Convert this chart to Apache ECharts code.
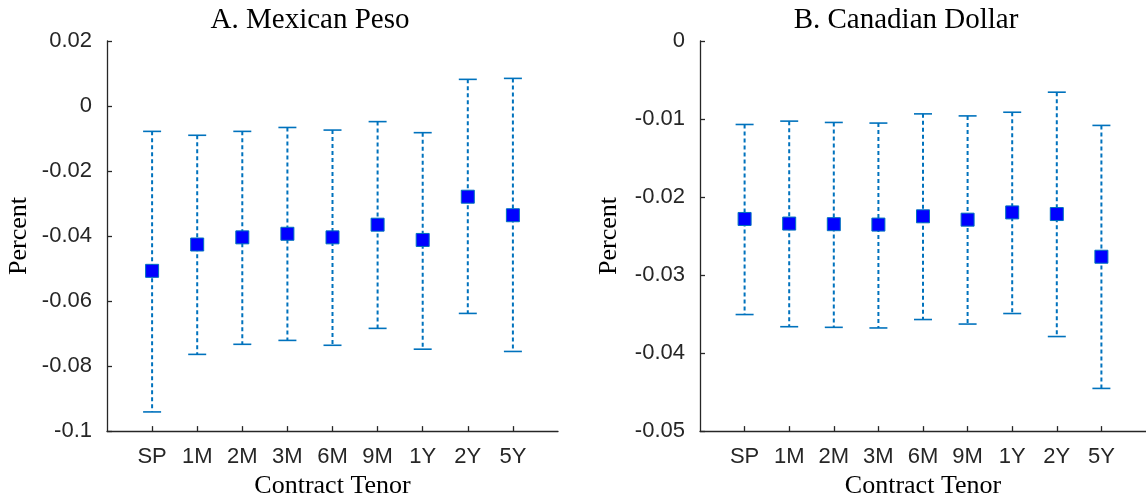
<!DOCTYPE html>
<html>
<head>
<meta charset="utf-8">
<script src="https://cdn.jsdelivr.net/npm/echarts@6/dist/echarts.min.js"></script>
<style>
html,body{margin:0;padding:0;background:#fff;}
#chart{width:1146px;height:504px;}
</style>
</head>
<body>
<div id="chart"></div>
<script>
const tenors = ['SP','1M','2M','3M','6M','9M','1Y','2Y','5Y'];
const mxnMean  = [-0.0507,-0.0426,-0.0404,-0.0393,-0.0404,-0.0365,-0.0412,-0.0279,-0.0336];
const mxnUpper = [-0.0078,-0.0090,-0.0078,-0.0066,-0.0074,-0.0048,-0.0082,0.0082,0.0085];
const mxnLower = [-0.0941,-0.0764,-0.0733,-0.0721,-0.0736,-0.0684,-0.0748,-0.0638,-0.0755];
const cadMean  = [-0.02281,-0.0234,-0.02348,-0.02353,-0.02247,-0.0229,-0.02197,-0.02218,-0.02765];
const cadUpper = [-0.0107,-0.01027,-0.01044,-0.01052,-0.00934,-0.0096,-0.00913,-0.00656,-0.01082];
const cadLower = [-0.03506,-0.03662,-0.0367,-0.03678,-0.0357,-0.03628,-0.03493,-0.03788,-0.04453];
const panelTitles = ['A. Mexican Peso','B. Canadian Dollar'];
const xTitle = 'Contract Tenor';
const yTitle = 'Percent';

const tickPos = tenors.map((t,i)=>i+1);
const axisColor = '#262626';
const barColor = '#0072BD';
const serif = '"Liberation Serif", "Times New Roman", serif';
const sans = '"Liberation Sans", Arial, sans-serif';

function fmtY(v){ return String(Math.round(v*1e6)/1e6); }

function xAxisFor(idx){
  return {
    gridIndex: idx, type:'value', min:0, max:10, interval:1,
    name: xTitle, nameLocation:'middle', nameGap:39,
    nameTextStyle:{fontFamily:serif, fontSize:26, color:'#000'},
    axisLine:{show:true, onZero:false, lineStyle:{color:axisColor, width:1.3}},
    axisTick:{show:true, inside:true, length:5, customValues:tickPos, lineStyle:{color:axisColor, width:1.3}},
    axisLabel:{customValues:tickPos, formatter:v=>tenors[Math.round(v)-1]||'', margin:15,
      fontFamily:sans, fontSize:22, color:axisColor},
    splitLine:{show:false}
  };
}
function yAxisFor(idx, min, max, interval, gap){
  return {
    gridIndex: idx, type:'value', min:min, max:max, interval:interval,
    name: yTitle, nameLocation:'middle', nameGap:gap,
    nameTextStyle:{fontFamily:serif, fontSize:26, color:'#000'},
    axisLine:{show:true, onZero:false, lineStyle:{color:axisColor, width:1.3}},
    axisTick:{show:true, inside:true, length:5, lineStyle:{color:axisColor, width:1.3}},
    axisLabel:{formatter:fmtY, margin:15, fontFamily:sans, fontSize:22, color:axisColor},
    splitLine:{show:false}
  };
}

function renderBar(params, api){
  const x = api.value(0), lo = api.value(1), hi = api.value(2);
  const pHi = api.coord([x, hi]);
  const pLo = api.coord([x, lo]);
  const w = 9;
  return {type:'group', children:[
    {type:'line', shape:{x1:pHi[0], y1:pHi[1], x2:pLo[0], y2:pLo[1]},
      style:{stroke:barColor, lineWidth:2, lineDash:[4,3], fill:null}},
    {type:'line', shape:{x1:pHi[0]-w, y1:pHi[1], x2:pHi[0]+w, y2:pHi[1]},
      style:{stroke:barColor, lineWidth:1.6, fill:null}},
    {type:'line', shape:{x1:pLo[0]-w, y1:pLo[1], x2:pLo[0]+w, y2:pLo[1]},
      style:{stroke:barColor, lineWidth:1.6, fill:null}}
  ]};
}

function seriesFor(idx, mean, lower, upper){
  return [
    {type:'custom', xAxisIndex:idx, yAxisIndex:idx, renderItem:renderBar,
      encode:{x:0, y:[1,2]}, silent:true, z:2,
      data: tenors.map((t,i)=>[i+1, lower[i], upper[i]])},
    {type:'scatter', xAxisIndex:idx, yAxisIndex:idx, symbol:'rect', symbolSize:13, z:3,
      itemStyle:{color:'#0000FF', borderColor:barColor, borderWidth:1, opacity:1},
      data: tenors.map((t,i)=>[i+1, mean[i]])}
  ];
}

const chart = echarts.init(document.getElementById('chart'), null, {renderer:'canvas'});
chart.setOption({
  animation:false,
  backgroundColor:'#fff',
  grid:[
    {left:107, top:41, width:451, height:396, containLabel:false},
    {left:700, top:41, width:451, height:396, containLabel:false}
  ],
  xAxis:[xAxisFor(0), xAxisFor(1)],
  yAxis:[yAxisFor(0,-0.1,0.02,0.02,75), yAxisFor(1,-0.05,0,0.01,78)],
  graphic:[
    {type:'text', x:310, y:20, style:{text:panelTitles[0], font:'29px '+serif, fill:'#000', align:'center', verticalAlign:'middle', textAlign:'center', textVerticalAlign:'middle'}},
    {type:'text', x:906, y:20, style:{text:panelTitles[1], font:'29px '+serif, fill:'#000', align:'center', verticalAlign:'middle', textAlign:'center', textVerticalAlign:'middle'}}
  ],
  series:[].concat(seriesFor(0, mxnMean, mxnLower, mxnUpper), seriesFor(1, cadMean, cadLower, cadUpper))
});
</script>
</body>
</html>
